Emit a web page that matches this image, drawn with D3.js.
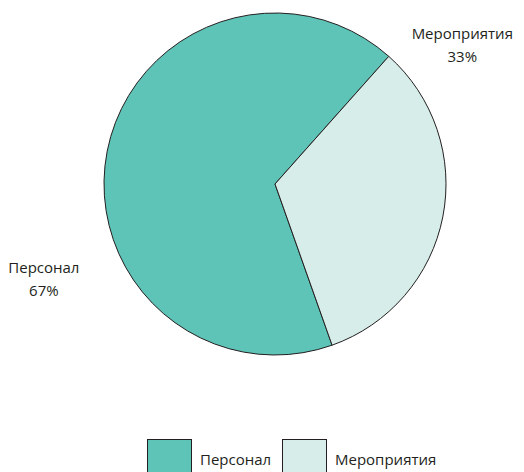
<!DOCTYPE html>
<html>
<head>
<meta charset="utf-8">
<script src="https://cdn.jsdelivr.net/npm/d3@7"></script>
<style>
  body { margin: 0; background: #fff; }
  svg { display: block; font-family: "Open Sans", sans-serif; }
</style>
</head>
<body>
<div id="chart"></div>
<script>
const categories = ['Персонал', 'Мероприятия'];
const values = [67, 33];
const colors = ['#5fc4b8', '#d6ede9'];

const width = 524, height = 472;
const cx = 275, cy = 184, radius = 171;

const svg = d3.select('#chart')
  .append('svg')
  .attr('width', width)
  .attr('height', height)
  .attr('font-size', 15)
  .attr('fill', '#231f20');

const data = categories.map((c, i) => ({ name: c, value: values[i] }));

const pie = d3.pie()
  .sort(null)
  .value(d => d.value)
  .startAngle(160.5 * Math.PI / 180)
  .endAngle(160.5 * Math.PI / 180 + 2 * Math.PI);

const arc = d3.arc().innerRadius(0).outerRadius(radius);

const g = svg.append('g').attr('transform', `translate(${cx},${cy})`);

const arcs = pie(data);

g.selectAll('path')
  .data(arcs)
  .enter().append('path')
  .attr('d', arc)
  .attr('fill', (d, i) => colors[i])
  .attr('stroke', '#231f20')
  .attr('stroke-width', 1);

// label placement: angle (deg, clockwise from top) and distance from center
const labelPos = [
  { angle: 247.6, dist: 250 },
  { angle: 53.5, dist: 233 }
];

const labels = g.selectAll('g.label')
  .data(arcs)
  .enter().append('g')
  .attr('class', 'label')
  .attr('transform', (d, i) => {
    const a = labelPos[i].angle * Math.PI / 180;
    return `translate(${Math.sin(a) * labelPos[i].dist},${-Math.cos(a) * labelPos[i].dist})`;
  })
  .attr('text-anchor', 'middle');

labels.append('text')
  .attr('y', -6)
  .text(d => d.data.name);

labels.append('text')
  .attr('y', 17)
  .text(d => Math.round(d.data.value) + '%');

// legend
const legend = svg.append('g').attr('transform', 'translate(147,439)');
const legendX = d3.scalePoint().domain(categories).range([0, 135]);

const items = legend.selectAll('g')
  .data(categories)
  .enter().append('g')
  .attr('transform', d => `translate(${legendX(d)},0)`);

items.append('rect')
  .attr('x', 0.5)
  .attr('y', 0.5)
  .attr('width', 44)
  .attr('height', 44)
  .attr('fill', (d, i) => colors[i])
  .attr('stroke', '#231f20')
  .attr('stroke-width', 1);

items.append('text')
  .attr('x', 53)
  .attr('y', 21)
  .attr('dy', '0.35em')
  .text(d => d);
</script>
</body>
</html>
